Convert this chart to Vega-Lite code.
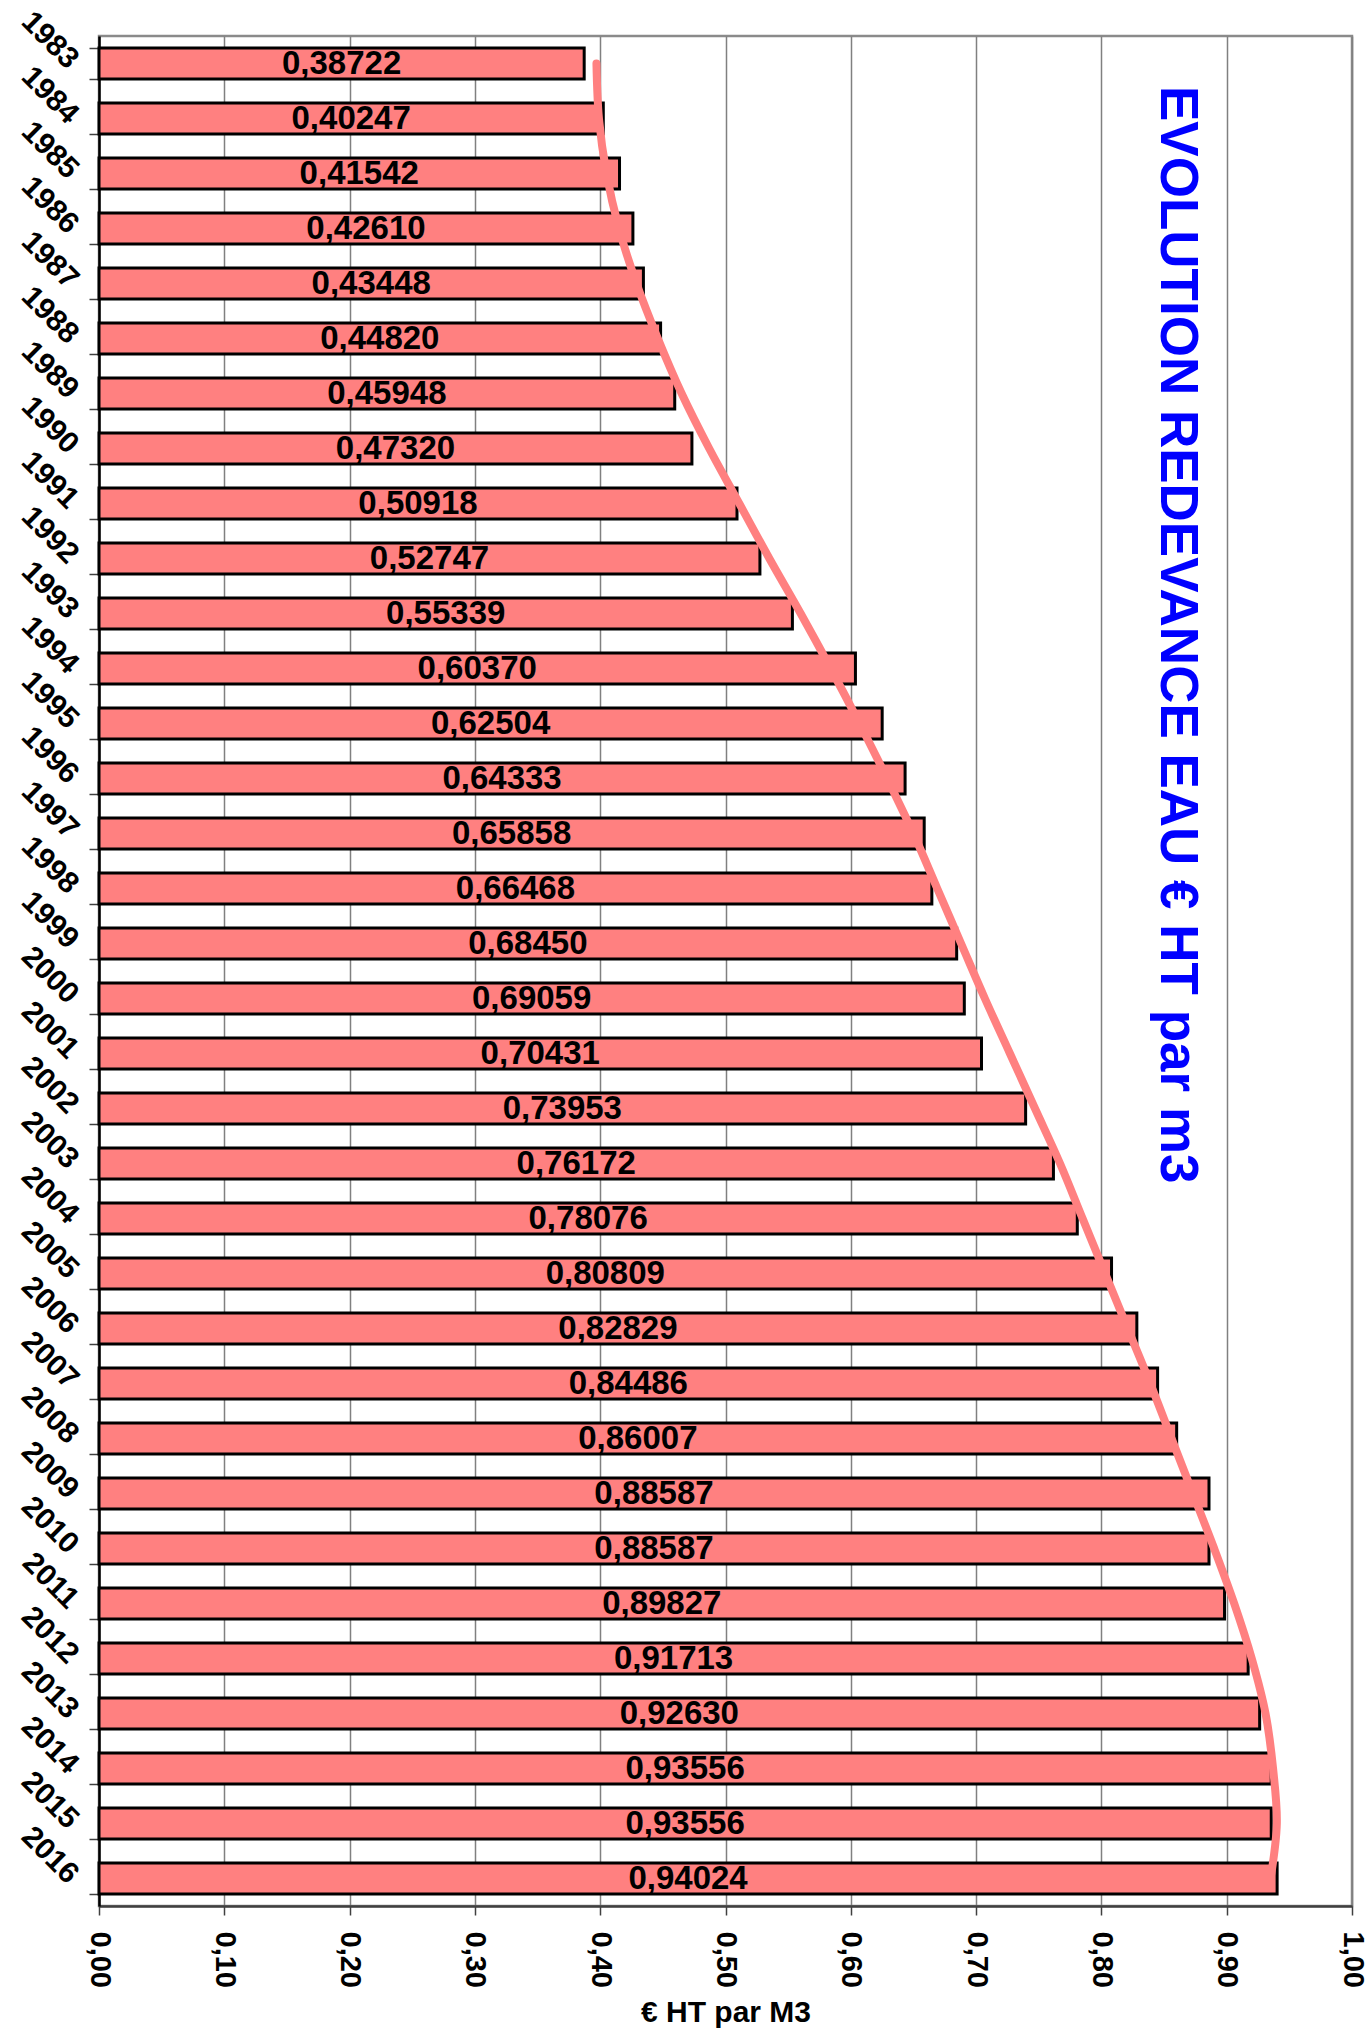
{
  "$schema": "https://vega.github.io/schema/vega-lite/v6.json",
  "width": 1253,
  "height": 1870,
  "autosize": {"type": "none"},
  "padding": {"left": 99, "top": 36, "right": 17, "bottom": 125},
  "background": "white",
  "config": {
    "locale": {"number": {"decimal": ",", "thousands": ".", "grouping": [3], "currency": ["", " €"]}},
    "view": {"stroke": "#8a8a8a", "strokeWidth": 2.5},
    "font": "Liberation Sans"
  },
  "datasets": {
    "bars": [
      {"year": "1983", "v": 0.38722},
      {"year": "1984", "v": 0.40247},
      {"year": "1985", "v": 0.41542},
      {"year": "1986", "v": 0.42610},
      {"year": "1987", "v": 0.43448},
      {"year": "1988", "v": 0.44820},
      {"year": "1989", "v": 0.45948},
      {"year": "1990", "v": 0.47320},
      {"year": "1991", "v": 0.50918},
      {"year": "1992", "v": 0.52747},
      {"year": "1993", "v": 0.55339},
      {"year": "1994", "v": 0.60370},
      {"year": "1995", "v": 0.62504},
      {"year": "1996", "v": 0.64333},
      {"year": "1997", "v": 0.65858},
      {"year": "1998", "v": 0.66468},
      {"year": "1999", "v": 0.68450},
      {"year": "2000", "v": 0.69059},
      {"year": "2001", "v": 0.70431},
      {"year": "2002", "v": 0.73953},
      {"year": "2003", "v": 0.76172},
      {"year": "2004", "v": 0.78076},
      {"year": "2005", "v": 0.80809},
      {"year": "2006", "v": 0.82829},
      {"year": "2007", "v": 0.84486},
      {"year": "2008", "v": 0.86007},
      {"year": "2009", "v": 0.88587},
      {"year": "2010", "v": 0.88587},
      {"year": "2011", "v": 0.89827},
      {"year": "2012", "v": 0.91713},
      {"year": "2013", "v": 0.92630},
      {"year": "2014", "v": 0.93556},
      {"year": "2015", "v": 0.93556},
      {"year": "2016", "v": 0.94024}
    ],
    "trend": [
      {"year": "1983", "v": 0.397},
      {"year": "1984", "v": 0.399},
      {"year": "1985", "v": 0.405},
      {"year": "1986", "v": 0.415},
      {"year": "1987", "v": 0.429},
      {"year": "1988", "v": 0.446},
      {"year": "1989", "v": 0.465},
      {"year": "1990", "v": 0.487},
      {"year": "1991", "v": 0.511},
      {"year": "1992", "v": 0.535},
      {"year": "1993", "v": 0.560},
      {"year": "1994", "v": 0.584},
      {"year": "1995", "v": 0.607},
      {"year": "1996", "v": 0.629},
      {"year": "1997", "v": 0.650},
      {"year": "1998", "v": 0.669},
      {"year": "1999", "v": 0.688},
      {"year": "2000", "v": 0.707},
      {"year": "2001", "v": 0.727},
      {"year": "2002", "v": 0.747},
      {"year": "2003", "v": 0.767},
      {"year": "2004", "v": 0.785},
      {"year": "2005", "v": 0.803},
      {"year": "2006", "v": 0.821},
      {"year": "2007", "v": 0.839},
      {"year": "2008", "v": 0.856},
      {"year": "2009", "v": 0.873},
      {"year": "2010", "v": 0.890},
      {"year": "2011", "v": 0.906},
      {"year": "2012", "v": 0.920},
      {"year": "2013", "v": 0.931},
      {"year": "2014", "v": 0.937},
      {"year": "2015", "v": 0.940},
      {"year": "2016", "v": 0.935}
    ],
    "title": [
      {"t": "EVOLUTION REDEVANCE EAU € HT par m3", "x": 0.8605, "year": "1983"}
    ]
  },
  "encoding": {
    "y": {
      "field": "year",
      "type": "ordinal",
      "sort": "ascending",
      "scale": {"paddingInner": 0.436, "paddingOuter": 0.218},
      "axis": {
        "title": null,
        "labelAngle": 45,
        "labelAlign": "right",
        "labelBaseline": "middle",
        "labelFontSize": 30,
        "labelFontWeight": "bold",
        "labelColor": "black",
        "labelPadding": 16,
        "tickBand": "extent",
        "tickSize": 10,
        "tickColor": "#404040",
        "tickWidth": 1.5,
        "domainColor": "black",
        "domainWidth": 2.5,
        "grid": false
      }
    }
  },
  "layer": [
    {
      "data": {"name": "bars"},
      "mark": {"type": "bar", "fill": "#FF8080", "stroke": "black", "strokeWidth": 3},
      "encoding": {
        "x": {
          "field": "v",
          "type": "quantitative",
          "scale": {"domain": [0, 1], "nice": false},
          "axis": {
            "title": "€ HT par M3",
            "values": [0, 0.1, 0.2, 0.3, 0.4, 0.5, 0.6, 0.7, 0.8, 0.9, 1],
            "format": ".2f",
            "labelAngle": 90,
            "labelAlign": "left",
            "labelBaseline": "middle",
            "labelFontSize": 29,
            "labelFontWeight": "bold",
            "labelColor": "black",
            "labelPadding": 16,
            "tickSize": 9,
            "tickColor": "#404040",
            "tickWidth": 1.5,
            "domainColor": "#404040",
            "domainWidth": 2.5,
            "grid": true,
            "gridColor": "#808080",
            "gridWidth": 1.5,
            "titleFontSize": 30,
            "titleFontWeight": "bold",
            "titleColor": "black",
            "titlePadding": 10
          }
        }
      }
    },
    {
      "data": {"name": "bars"},
      "transform": [{"calculate": "datum.v / 2", "as": "mid"}],
      "mark": {"type": "text", "fontSize": 33, "fontWeight": "bold", "color": "black", "align": "center", "baseline": "middle"},
      "encoding": {
        "x": {"field": "mid", "type": "quantitative"},
        "text": {"field": "v", "type": "quantitative", "format": ".5f"}
      }
    },
    {
      "data": {"name": "trend"},
      "mark": {"type": "line", "stroke": "#FF8080", "strokeWidth": 8, "strokeCap": "round", "interpolate": "catmull-rom"},
      "encoding": {
        "x": {"field": "v", "type": "quantitative"},
        "order": {"field": "year"}
      }
    },
    {
      "data": {"name": "title"},
      "mark": {"type": "text", "angle": 90, "align": "left", "baseline": "middle", "dx": 7, "fontSize": 53, "fontWeight": "bold", "color": "#0000FF"},
      "encoding": {
        "x": {"field": "x", "type": "quantitative"},
        "y": {"field": "year", "type": "ordinal", "bandPosition": 1},
        "text": {"field": "t"}
      }
    }
  ]
}
